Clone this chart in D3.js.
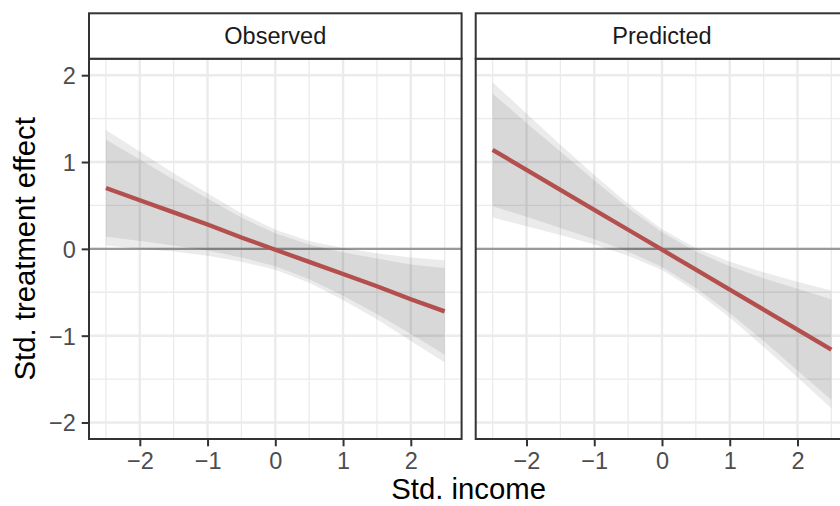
<!DOCTYPE html>
<html>
<head>
<meta charset="utf-8">
<script src="https://cdn.jsdelivr.net/npm/d3@7"></script>
<style>
  html, body { margin: 0; padding: 0; background: #fff; }
  svg { display: block; font-family: "Liberation Sans", Arial, Helvetica, sans-serif; }
</style>
</head>
<body>
<svg id="chart" width="840" height="506"></svg>
<script>
// Facet names
const panels = ["Observed", "Predicted"];

// Grid values along each axis
const xTicks = [-2, -1, 0, 1, 2];
const xMinor = [-2.5, -1.5, -0.5, 0.5, 1.5, 2.5];
const yTicks = [-2, -1, 0, 1, 2];
const yMinor = [-1.5, -0.5, 0.5, 1.5];

// Std. income grid at which the fit and its intervals are evaluated
const income = [-2.5, -2, -1.5, -1, -0.5, 0, 0.5, 1, 1.5, 2, 2.5];

// Observed: fitted effect, wide (outer) and narrow (inner) interval bounds
const observedFit     = [0.70, 0.56, 0.42, 0.28, 0.13, -0.01, -0.15, -0.29, -0.43, -0.58, -0.72];
const observedOuterHi = [1.37, 1.12, 0.87, 0.64, 0.41, 0.22, 0.09, 0.01, -0.05, -0.10, -0.13];
const observedOuterLo = [0.04, 0.00, -0.03, -0.08, -0.15, -0.24, -0.39, -0.59, -0.81, -1.06, -1.31];
const observedInnerHi = [1.26, 1.03, 0.80, 0.58, 0.36, 0.18, 0.05, -0.04, -0.11, -0.18, -0.22];
const observedInnerLo = [0.14, 0.09, 0.04, -0.02, -0.10, -0.20, -0.35, -0.54, -0.75, -0.98, -1.22];

// Predicted: fitted effect, wide (outer) and narrow (inner) interval bounds
const predictedFit     = [1.14, 0.91, 0.68, 0.45, 0.22, -0.01, -0.24, -0.47, -0.70, -0.93, -1.16];
const predictedOuterHi = [1.92, 1.56, 1.20, 0.85, 0.52, 0.225, 0.01, -0.15, -0.27, -0.38, -0.48];
const predictedOuterLo = [0.36, 0.26, 0.16, 0.05, -0.08, -0.245, -0.49, -0.79, -1.13, -1.48, -1.84];
const predictedInnerHi = [1.79, 1.45, 1.12, 0.79, 0.47, 0.19, -0.03, -0.20, -0.34, -0.46, -0.58];
const predictedInnerLo = [0.49, 0.37, 0.24, 0.11, -0.03, -0.21, -0.45, -0.74, -1.06, -1.40, -1.74];

const seriesByPanel = {
  Observed:  { fit: observedFit,  outerLo: observedOuterLo,  outerHi: observedOuterHi,  innerLo: observedInnerLo,  innerHi: observedInnerHi },
  Predicted: { fit: predictedFit, outerLo: predictedOuterLo, outerHi: predictedOuterHi, innerLo: predictedInnerLo, innerHi: predictedInnerHi }
};

// Layout
const panelW = 372.6, panelH = 380.3;
const panelTop = 58.7, stripTop = 13.3;
const panelLeft = [89, 475.7];

const x = d3.scaleLinear().domain([-2.75, 2.75]).range([0, panelW]);
const y = d3.scaleLinear().domain([-2.19, 2.19]).range([panelH, 0]);
const fmt = d3.format("d");

const svg = d3.select("#chart");
svg.append("rect").attr("width", 840).attr("height", 506).attr("fill", "#fff");

const ink = "#333333";
const tickFont = 23.5, titleFont = 29.3;

panels.forEach((name, i) => {
  const s = seriesByPanel[name];
  const rows = income.map((v, k) => ({
    x: v, fit: s.fit[k],
    outerLo: s.outerLo[k], outerHi: s.outerHi[k],
    innerLo: s.innerLo[k], innerHi: s.innerHi[k]
  }));

  const g = svg.append("g").attr("transform", `translate(${panelLeft[i]},${panelTop})`);

  g.append("rect").attr("width", panelW).attr("height", panelH).attr("fill", "#fff");

  // minor grid
  g.selectAll(".vmin").data(xMinor).join("line")
    .attr("x1", d => x(d)).attr("x2", d => x(d)).attr("y1", 0).attr("y2", panelH)
    .attr("stroke", "#EBEBEB").attr("stroke-width", 1.3);
  g.selectAll(".hmin").data(yMinor).join("line")
    .attr("y1", d => y(d)).attr("y2", d => y(d)).attr("x1", 0).attr("x2", panelW)
    .attr("stroke", "#EBEBEB").attr("stroke-width", 1.3);
  // major grid
  g.selectAll(".vmaj").data(xTicks).join("line")
    .attr("x1", d => x(d)).attr("x2", d => x(d)).attr("y1", 0).attr("y2", panelH)
    .attr("stroke", "#EBEBEB").attr("stroke-width", 2.4);
  g.selectAll(".hmaj").data(yTicks).join("line")
    .attr("y1", d => y(d)).attr("y2", d => y(d)).attr("x1", 0).attr("x2", panelW)
    .attr("stroke", "#EBEBEB").attr("stroke-width", 2.4);

  // reference line at zero effect
  g.append("line")
    .attr("x1", 0).attr("x2", panelW).attr("y1", y(0)).attr("y2", y(0))
    .attr("stroke", "#999999").attr("stroke-width", 2.2);

  // interval ribbons
  const outer = d3.area().x(d => x(d.x)).y0(d => y(d.outerLo)).y1(d => y(d.outerHi));
  const inner = d3.area().x(d => x(d.x)).y0(d => y(d.innerLo)).y1(d => y(d.innerHi));
  g.append("path").datum(rows).attr("d", outer).attr("fill", "#000").attr("fill-opacity", 0.08);
  g.append("path").datum(rows).attr("d", inner).attr("fill", "#000").attr("fill-opacity", 0.08);

  // fitted line
  g.append("path").datum(rows)
    .attr("d", d3.line().x(d => x(d.x)).y(d => y(d.fit)))
    .attr("fill", "none").attr("stroke", "#B3504E").attr("stroke-width", 4.3)
    .attr("stroke-linecap", "butt");

  // panel border
  g.append("rect").attr("width", panelW).attr("height", panelH)
    .attr("fill", "none").attr("stroke", ink).attr("stroke-width", 2);

  // strip
  const strip = svg.append("g").attr("transform", `translate(${panelLeft[i]},${stripTop})`);
  strip.append("rect").attr("width", panelW).attr("height", panelTop - stripTop)
    .attr("fill", "#fff").attr("stroke", ink).attr("stroke-width", 2);
  strip.append("text")
    .attr("x", panelW / 2).attr("y", (panelTop - stripTop) / 2 + tickFont * 0.358)
    .attr("text-anchor", "middle").attr("font-size", tickFont).attr("fill", "#1A1A1A")
    .text(name);

  // x axis
  const xAxis = svg.append("g").attr("transform", `translate(${panelLeft[i]},${panelTop + panelH})`)
    .call(d3.axisBottom(x).tickValues(xTicks).tickFormat(fmt).tickSize(7.3).tickPadding(5.9));
  xAxis.select(".domain").remove();
  xAxis.selectAll(".tick line").attr("stroke", ink).attr("stroke-width", 2);
  xAxis.selectAll(".tick text").attr("font-size", tickFont).attr("fill", "#4D4D4D")
    .attr("font-family", "Liberation Sans, Arial, sans-serif").attr("dy", "0.71em");

  // y axis on the first panel only
  if (i === 0) {
    const yAxis = svg.append("g").attr("transform", `translate(${panelLeft[i]},${panelTop})`)
      .call(d3.axisLeft(y).tickValues(yTicks).tickFormat(fmt).tickSize(7.3).tickPadding(5.9));
    yAxis.select(".domain").remove();
    yAxis.selectAll(".tick line").attr("stroke", ink).attr("stroke-width", 2);
    yAxis.selectAll(".tick text").attr("font-size", tickFont).attr("fill", "#4D4D4D")
      .attr("font-family", "Liberation Sans, Arial, sans-serif").attr("dy", "0.358em");
  }
});

// axis titles
svg.append("text")
  .attr("x", (panelLeft[0] + panelLeft[1] + panelW) / 2).attr("y", 499)
  .attr("text-anchor", "middle").attr("font-size", titleFont).attr("fill", "#000")
  .text("Std. income");

svg.append("text")
  .attr("transform", `translate(35,${panelTop + panelH / 2}) rotate(-90)`)
  .attr("text-anchor", "middle").attr("font-size", titleFont).attr("fill", "#000")
  .text("Std. treatment effect");
</script>
</body>
</html>
